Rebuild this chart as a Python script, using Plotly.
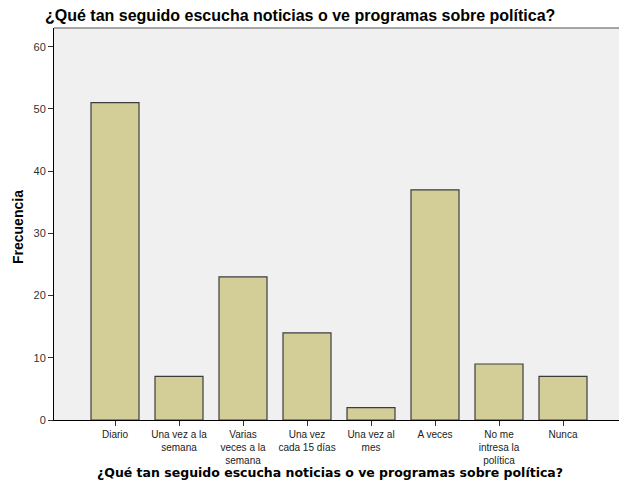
import plotly.graph_objects as go

categories = ["Diario", "Una vez a la<br>semana", "Varias<br>veces a la<br>semana",
              "Una vez<br>cada 15 días", "Una vez al<br>mes", "A veces",
              "No me<br>intresa la<br>política", "Nunca"]
counts = [51, 7, 23, 14, 2, 37, 9, 7]
title_text = "¿Qué tan seguido escucha noticias o ve programas sobre política?"
y_title = "Frecuencia"
y_ticks = [0, 10, 20, 30, 40, 50, 60]

W, H = 619, 491
PL, PT, PB = 54, 28, 420          # plot left, top, bottom in px
# category centres sit at 115 + 64*k px; plot spans 54 .. W
x_lo = (PL - 115) / 64
x_hi = (W - 115) / 64

fig = go.Figure(go.Bar(
    x=list(range(len(categories))), y=counts,
    width=0.75,
    marker=dict(color="#d3ce97", line=dict(color="#3c3c3c", width=1.2)),
))

fig.update_layout(
    width=W, height=H,
    margin=dict(l=PL, r=0, t=PT, b=H - PB, autoexpand=False),
    paper_bgcolor="white", plot_bgcolor="#f0f0f0",
    font=dict(family="Arial, Liberation Sans", size=10, color="#222"),
    showlegend=False,
    title=dict(text="<b>" + title_text + "</b>", x=45 / W, xanchor="left",
               y=1 - 15 / H, yanchor="middle",
               font=dict(size=16, color="black", family="Arial, Liberation Sans")),
    xaxis=dict(
        tickmode="array", tickvals=list(range(len(categories))), ticktext=categories,
        range=[x_lo, x_hi], showgrid=False, zeroline=False, automargin=False,
        showline=True, linecolor="black", linewidth=1,
        ticks="outside", ticklen=5, tickcolor="#333",
        tickfont=dict(size=10, color="#222"),
    ),
    yaxis=dict(
        range=[0, 63], tickvals=y_ticks, showgrid=False, zeroline=False, automargin=False,
        showline=True, linecolor="black", linewidth=1,
        ticks="outside", ticklen=5, tickcolor="#333",
        tickfont=dict(size=11, color="#333"),
    ),
    shapes=[dict(type="line", xref="paper", yref="paper", x0=0, x1=1, y0=1, y1=1,
                 line=dict(color="#888", width=1.5))],
    annotations=[
        dict(text="<b>" + title_text + "</b>", xref="paper", yref="paper",
             x=(330 - PL) / (W - PL), y=-(473 - PB) / (PB - PT),
             xanchor="center", yanchor="middle", showarrow=False,
             font=dict(size=12.5, color="black", family="DejaVu Sans")),
        dict(text="<b>" + y_title + "</b>", xref="paper", yref="paper",
             x=-(PL - 18) / (W - PL), y=(PB - 227) / (PB - PT),
             xanchor="center", yanchor="middle", showarrow=False, textangle=-90,
             font=dict(size=14, color="black", family="Arial, Liberation Sans")),
    ],
)

fig.write_html("out.html", config={"displayModeBar": False},
               post_script="document.body.style.margin='0';document.body.style.overflow='hidden';")
